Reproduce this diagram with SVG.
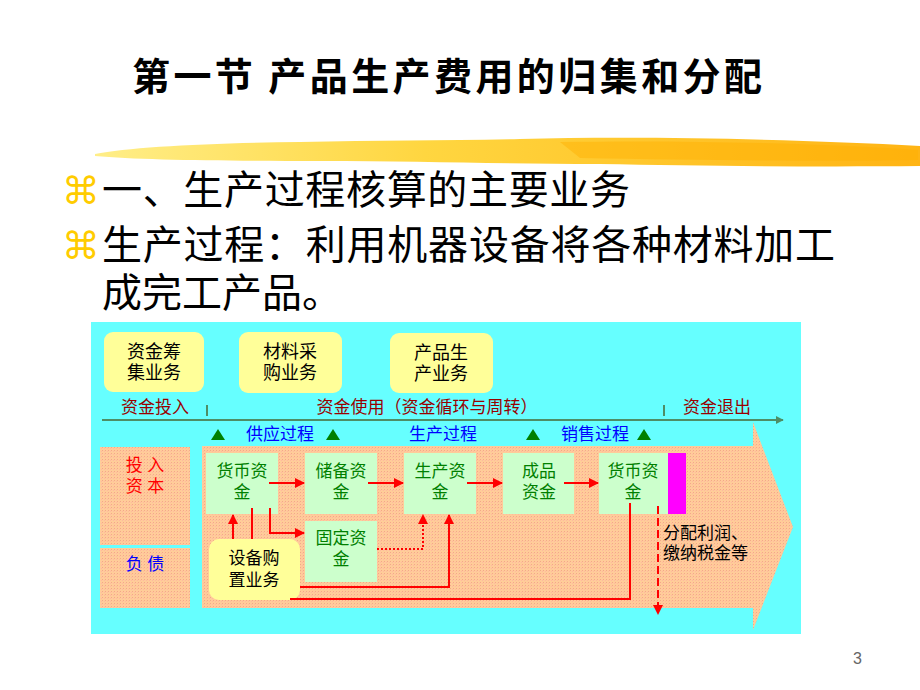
<svg xmlns="http://www.w3.org/2000/svg" width="920" height="690" viewBox="0 0 920 690">
<defs>
<style>
.t{font-family:"Noto Sans CJK SC","Noto Sans",sans-serif;}
.m{font-family:"Liberation Sans","Noto Sans CJK SC",sans-serif;}
.title{font-size:38px;font-weight:bold;fill:#000;}
.body{font-size:40px;fill:#000;}
.bul{font-family:"DejaVu Sans",sans-serif;font-size:38px;fill:#FFCC00;}
.s{font-size:17px;text-anchor:middle;}
.yb{fill:#FFFF99;}
.gb{fill:#CCFFCC;}
.gt{fill:#008000;}
.dr{fill:#990000;}
.bl{fill:#0000FF;}
.rd{stroke:#FF0000;stroke-width:2;fill:none;}
.gl{stroke:#4E8E66;stroke-width:2;fill:none;}
</style>
<linearGradient id="brush" x1="0" y1="0" x2="1" y2="0">
<stop offset="0" stop-color="#FFEE88"/>
<stop offset="0.4" stop-color="#FFD640"/>
<stop offset="1" stop-color="#FFB414"/>
</linearGradient>
<pattern id="dots" width="3" height="3" patternUnits="userSpaceOnUse">
<rect width="3" height="3" fill="#FFCC99"/>
<rect x="0" y="0" width="1" height="1" fill="#F4A68A"/>
<rect x="2" y="1" width="1" height="1" fill="#FFB8A0"/>
</pattern>
<marker id="ah" viewBox="0 0 10 10" refX="9" refY="5" markerWidth="5" markerHeight="5" orient="auto" markerUnits="strokeWidth">
<path d="M0,0 L10,5 L0,10 Z" fill="#FF0000"/>
</marker>
<marker id="gh" viewBox="0 0 10 10" refX="9" refY="5" markerWidth="4" markerHeight="4" orient="auto" markerUnits="strokeWidth">
<path d="M0,0 L10,5 L0,10 Z" fill="#4E8E66"/>
</marker>
</defs>

<rect width="920" height="690" fill="#FFFFFF"/>

<g id="title">
<text class="t title" x="132" y="90" textLength="630" lengthAdjust="spacing">第一节  产品生产费用的归集和分配</text>
</g>

<g id="brush-stroke">
<path d="M95,154 C130,147 210,143 300,142 C380,140 450,141 520,139 C640,136 800,139 920,146 L920,166 C820,167 700,166 600,164 C500,164 420,161 320,161 C220,161 140,160 95,156 Z" fill="url(#brush)"/>
<path d="M560,142 C680,140 820,143 918,150 L918,160 C820,162 700,160 580,158 Z" fill="#FFB000" opacity="0.45"/>
</g>

<g id="bullets">
<text class="bul" x="62" y="204">⌘</text>
<text class="m body" x="102" y="204" textLength="528" lengthAdjust="spacing">一、生产过程核算的主要业务</text>
<text class="bul" x="62" y="259">⌘</text>
<text class="m body" x="102" y="259" textLength="733" lengthAdjust="spacing">生产过程：利用机器设备将各种材料加工</text>
<text class="m body" x="102" y="307">成完工产品。</text>
</g>

<g id="panel">
<rect x="91" y="322" width="710" height="312" fill="#66FFFF"/>
</g>

<g id="big-arrow">
<path d="M202,446 L753,446 L753,422 L793,527 L753,630 L753,608 L202,608 Z" fill="url(#dots)"/>
</g>

<g id="left-boxes">
<rect x="100" y="447" width="90" height="98" fill="url(#dots)"/>
<rect x="100" y="548" width="90" height="60" fill="url(#dots)"/>
<text class="m s" fill="#FF0000"><tspan x="145" y="471">投 入</tspan><tspan x="145" y="492">资 本</tspan></text>
<text class="m s bl" x="145" y="570">负 债</text>
</g>

<g id="biz1">
<rect class="yb" x="104" y="332" width="100" height="60" rx="9"/>
<text class="m s" style="font-size:18px"><tspan x="154" y="358">资金筹</tspan><tspan x="154" y="379">集业务</tspan></text>
</g>
<g id="biz2">
<rect class="yb" x="239" y="332" width="103" height="61" rx="9"/>
<text class="m s" style="font-size:18px"><tspan x="290" y="358">材料采</tspan><tspan x="290" y="379">购业务</tspan></text>
</g>
<g id="biz3">
<rect class="yb" x="390" y="333" width="103" height="60" rx="9"/>
<text class="m s" style="font-size:18px"><tspan x="441" y="359">产品生</tspan><tspan x="441" y="380">产业务</tspan></text>
</g>

<g id="phase-labels">
<text class="t s dr" x="155" y="413">资金投入</text>
<text class="t s dr" x="427" y="413">资金使用（资金循环与周转）</text>
<text class="t s dr" x="717" y="413">资金退出</text>
<line class="gl" x1="207" y1="405" x2="207" y2="416"/>
<line class="gl" x1="664" y1="405" x2="664" y2="416"/>
</g>

<g id="process-labels">
<path d="M218,429 L225,440 L211,440 Z" fill="#008000"/>
<path d="M333,429 L340,440 L326,440 Z" fill="#008000"/>
<path d="M533,429 L540,440 L526,440 Z" fill="#008000"/>
<path d="M644,429 L651,440 L637,440 Z" fill="#008000"/>
<text class="t s bl" x="280" y="440">供应过程</text>
<text class="t s bl" x="443" y="440">生产过程</text>
<text class="t s bl" x="595" y="440">销售过程</text>
</g>

<g id="cash1">
<rect class="gb" x="206" y="453" width="72" height="61"/>
<text class="m s gt"><tspan x="242" y="477">货币资</tspan><tspan x="242" y="498">金</tspan></text>
</g>
<g id="reserve">
<rect class="gb" x="305" y="453" width="72" height="61"/>
<text class="m s gt"><tspan x="341" y="477">储备资</tspan><tspan x="341" y="498">金</tspan></text>
</g>
<g id="fixed">
<rect class="gb" x="305" y="521" width="72" height="61"/>
<text class="m s gt"><tspan x="341" y="544">固定资</tspan><tspan x="341" y="565">金</tspan></text>
</g>
<g id="production">
<rect class="gb" x="404" y="453" width="72" height="61"/>
<text class="m s gt"><tspan x="440" y="477">生产资</tspan><tspan x="440" y="498">金</tspan></text>
</g>
<g id="finished">
<rect class="gb" x="503" y="453" width="71" height="61"/>
<text class="m s gt"><tspan x="539" y="477">成品</tspan><tspan x="539" y="498">资金</tspan></text>
</g>
<g id="cash2">
<rect class="gb" x="599" y="453" width="69" height="61"/>
<text class="m s gt"><tspan x="633" y="477">货币资</tspan><tspan x="633" y="498">金</tspan></text>
</g>
<g id="exit-bar">
<rect x="668" y="453" width="18" height="61" fill="#FF00FF"/>
</g>

<g id="equipment">
<rect class="yb" x="209" y="539" width="91" height="61" rx="10"/>
<text class="m s"><tspan x="254" y="564">设备购</tspan><tspan x="254" y="586">置业务</tspan></text>
</g>

<g id="distribution">
<text class="m" style="font-size:17px"><tspan x="663" y="539">分配利润、</tspan><tspan x="663" y="559">缴纳税金等</tspan></text>
</g>

<g id="connectors">
<path class="gl" d="M102,420 H783" marker-end="url(#gh)"/>
<path class="rd" d="M269,483 H304" marker-end="url(#ah)"/>
<path class="rd" d="M368,483 H403" marker-end="url(#ah)"/>
<path class="rd" d="M467,483 H502" marker-end="url(#ah)"/>
<path class="rd" d="M564,483 H598" marker-end="url(#ah)"/>
<path class="rd" d="M270,508 V533 H304" marker-end="url(#ah)"/>
<path class="rd" d="M233,539 V515" marker-end="url(#ah)"/>
<path class="rd" d="M252,508 V539"/>
<path class="rd" d="M377,549 H423 V515" stroke-dasharray="2,2" marker-end="url(#ah)"/>
<path class="rd" d="M300,587 H449 V515" marker-end="url(#ah)"/>
<path class="rd" d="M290,599 H630 V503"/>
<path class="rd" d="M658,506 V614" stroke-dasharray="8,4" marker-end="url(#ah)"/>
</g>

<g id="page-number">
<text x="853" y="664" style="font-family:'Liberation Sans',sans-serif;font-size:16px;fill:#666666">3</text>
</g>
</svg>
